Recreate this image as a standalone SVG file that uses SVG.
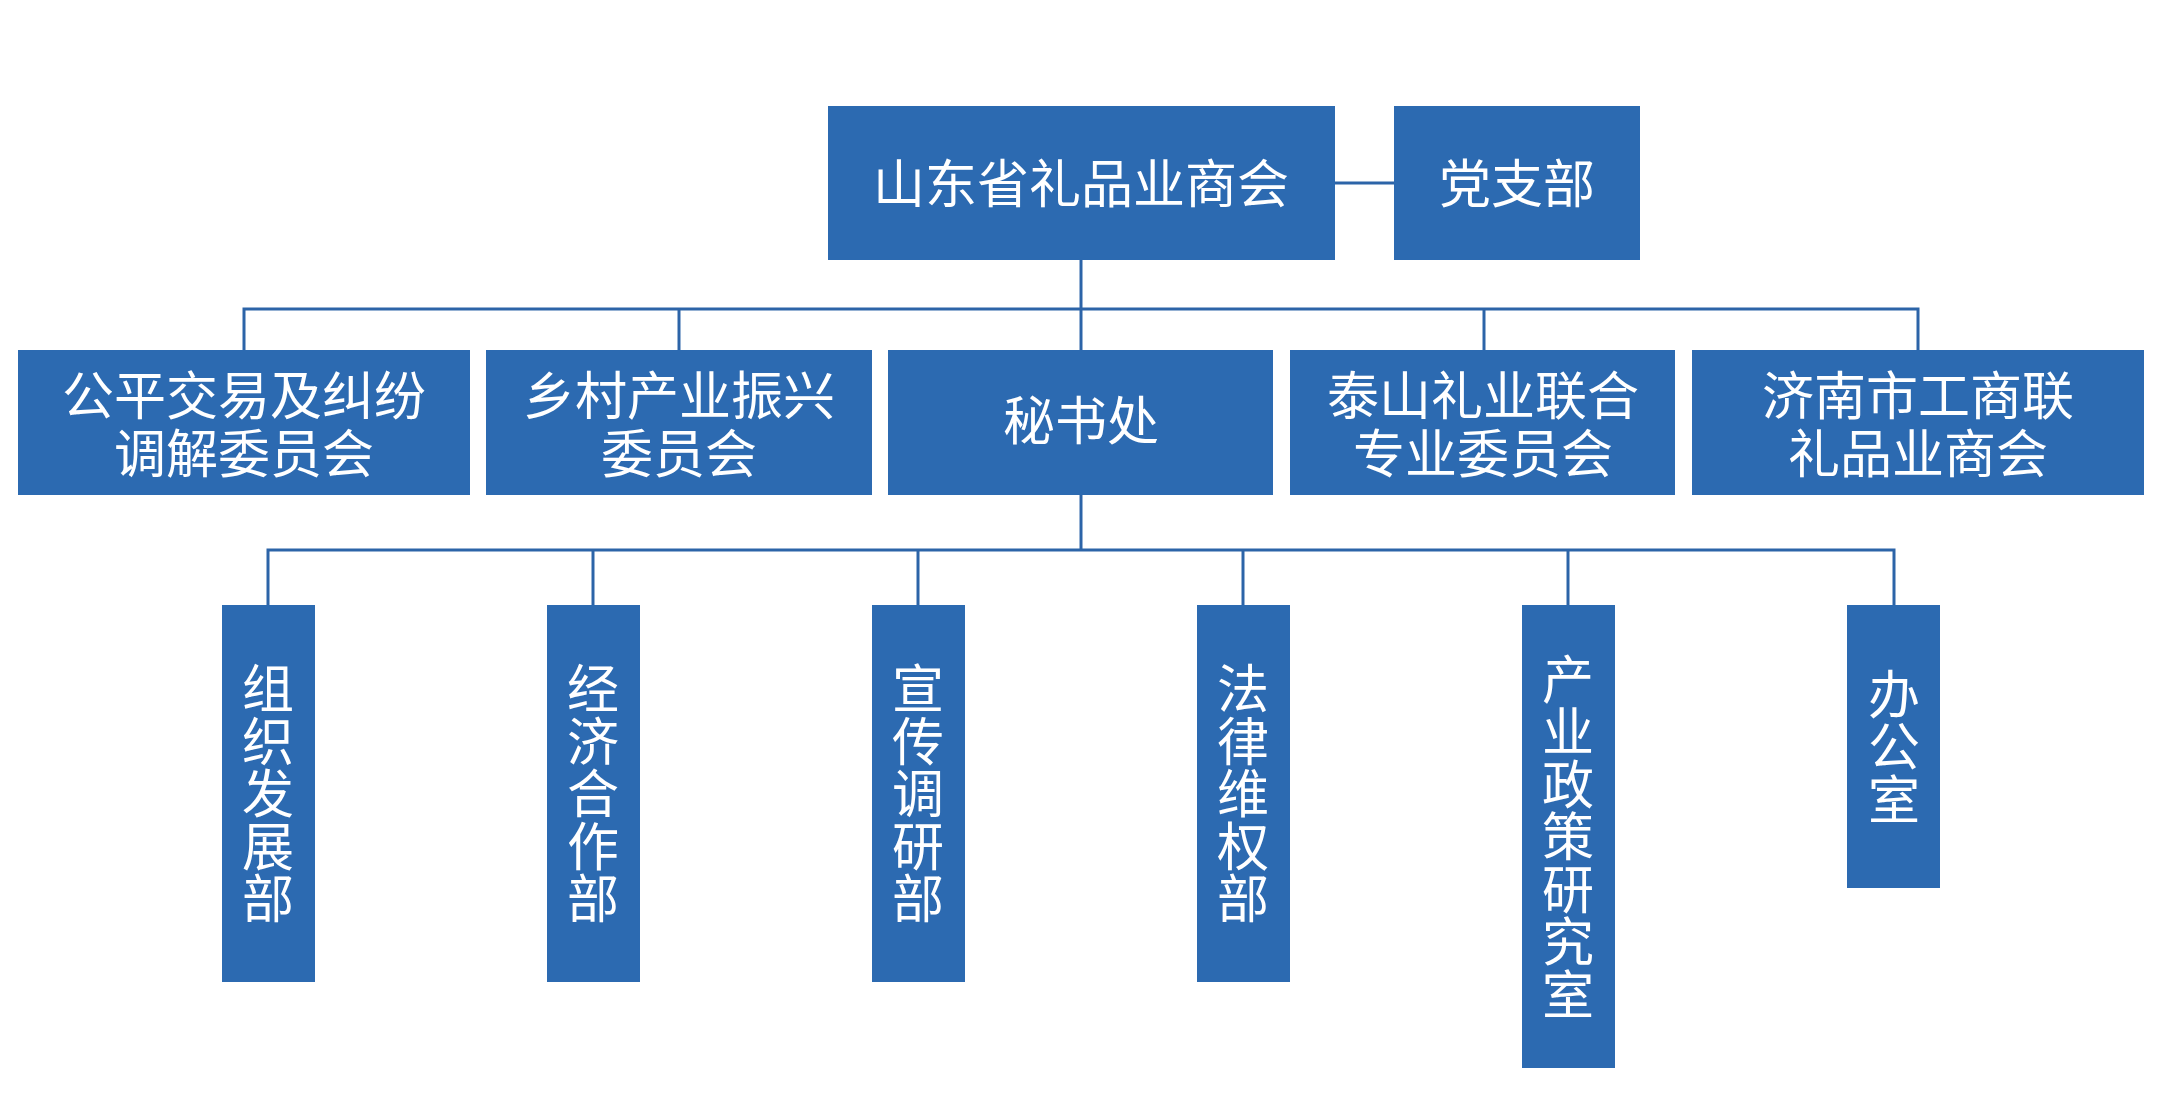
<svg xmlns="http://www.w3.org/2000/svg" width="2173" height="1093" viewBox="0 0 2173 1093">
<style>
.box{fill:#2C6AB1}
.t{fill:#fff;font-family:"Noto Sans CJK SC","Noto Sans CJK JP",sans-serif;font-size:52px;text-anchor:middle}
.v{fill:#fff;font-family:"Noto Sans CJK SC","Noto Sans CJK JP",sans-serif;font-size:52px;text-anchor:middle;writing-mode:vertical-rl;letter-spacing:0.5px}
.ln{stroke:#2C64A8;stroke-width:3;fill:none}
</style>
<rect width="2173" height="1093" fill="#fff"/>
<g id="connectors">
<line class="ln" x1="1335" y1="183" x2="1394" y2="183"/>
<line class="ln" x1="1081" y1="260" x2="1081" y2="350"/>
<polyline class="ln" points="244,350 244,309 1918,309 1918,350"/>
<line class="ln" x1="679" y1="309" x2="679" y2="350"/>
<line class="ln" x1="1484" y1="309" x2="1484" y2="350"/>
<line class="ln" x1="1081" y1="495" x2="1081" y2="550"/>
<polyline class="ln" points="268,605 268,550 1894,550 1894,605"/>
<line class="ln" x1="593" y1="550" x2="593" y2="605"/>
<line class="ln" x1="918" y1="550" x2="918" y2="605"/>
<line class="ln" x1="1243" y1="550" x2="1243" y2="605"/>
<line class="ln" x1="1568" y1="550" x2="1568" y2="605"/>
</g>
<g id="n-root"><rect class="box" x="828" y="106" width="507" height="154"/><text class="t" x="1081" y="203">山东省礼品业商会</text></g>
<g id="n-party"><rect class="box" x="1394" y="106" width="246" height="154"/><text class="t" x="1517" y="203">党支部</text></g>
<g id="n-fair"><rect class="box" x="18" y="350" width="452" height="145"/><text class="t" x="244" y="415">公平交易及纠纷<tspan x="244" dy="58">调解委员会</tspan></text></g>
<g id="n-rural"><rect class="box" x="486" y="350" width="386" height="145"/><text class="t" x="679" y="415">乡村产业振兴<tspan x="679" dy="58">委员会</tspan></text></g>
<g id="n-sec"><rect class="box" x="888" y="350" width="385" height="145"/><text class="t" x="1081" y="440">秘书处</text></g>
<g id="n-taishan"><rect class="box" x="1290" y="350" width="385" height="145"/><text class="t" x="1483" y="415">泰山礼业联合<tspan x="1483" dy="58">专业委员会</tspan></text></g>
<g id="n-jinan"><rect class="box" x="1692" y="350" width="452" height="145"/><text class="t" x="1918" y="415">济南市工商联<tspan x="1918" dy="58">礼品业商会</tspan></text></g>
<g id="n-org"><rect class="box" x="222" y="605" width="93" height="377"/><text class="v" x="268" y="793.5">组织发展部</text></g>
<g id="n-econ"><rect class="box" x="547" y="605" width="93" height="377"/><text class="v" x="593" y="793.5">经济合作部</text></g>
<g id="n-pub"><rect class="box" x="872" y="605" width="93" height="377"/><text class="v" x="918" y="793.5">宣传调研部</text></g>
<g id="n-law"><rect class="box" x="1197" y="605" width="93" height="377"/><text class="v" x="1243" y="793.5">法律维权部</text></g>
<g id="n-policy"><rect class="box" x="1522" y="605" width="93" height="463"/><text class="v" x="1568" y="836.5">产业政策研究室</text></g>
<g id="n-office"><rect class="box" x="1847" y="605" width="93" height="283"/><text class="v" x="1894" y="746.5">办公室</text></g>
</svg>
